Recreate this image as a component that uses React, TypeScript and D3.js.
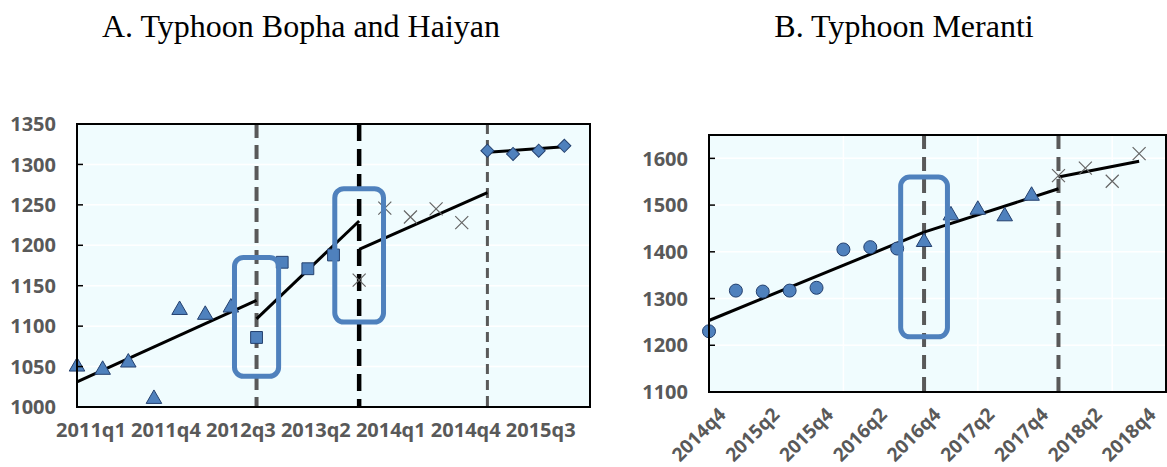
import React from 'react';
import * as d3 from 'd3';

// ---- Panel A: Typhoon Bopha and Haiyan ----
const quartersA = [
  '2011q1', '2011q2', '2011q3', '2011q4', '2012q1', '2012q2', '2012q3', '2012q4',
  '2013q1', '2013q2', '2013q3', '2013q4', '2014q1', '2014q2', '2014q3', '2014q4',
  '2015q1', '2015q2', '2015q3', '2015q4',
];
const tickLabelsA = ['2011q1', '2011q4', '2012q3', '2013q2', '2014q1', '2014q4', '2015q3'];
const yTicksA = [1000, 1050, 1100, 1150, 1200, 1250, 1300, 1350];

const triangleA = [1050, 1046, 1055, 1010, 1120, 1114, 1123]; // from 2011q1
const squareA = [1086, 1179, 1171, 1188]; // from 2012q4
const crossA = [1157, 1246, 1235, 1245, 1228]; // from 2013q4
const diamondA = [1317, 1313, 1317, 1323]; // from 2015q1

const fitA = [
  { from: '2011q1', to: '2012q4', y0: 1031, y1: 1132 },
  { from: '2012q4', to: '2013q4', y0: 1109, y1: 1230 },
  { from: '2013q4', to: '2015q1', y0: 1195, y1: 1265 },
  { from: '2015q1', to: '2015q4', y0: 1315, y1: 1322 },
];
const eventsA = ['2012q4', '2013q4', '2015q1'];
const boxesA = [
  { at: '2012q4', lo: 1038, hi: 1185 },
  { at: '2013q4', lo: 1105, hi: 1270 },
];

// ---- Panel B: Typhoon Meranti ----
const quartersB = [
  '2014q4', '2015q1', '2015q2', '2015q3', '2015q4', '2016q1', '2016q2', '2016q3',
  '2016q4', '2017q1', '2017q2', '2017q3', '2017q4', '2018q1', '2018q2', '2018q3',
  '2018q4',
];
const tickLabelsB = ['2014q4', '2015q2', '2015q4', '2016q2', '2016q4', '2017q2', '2017q4', '2018q2', '2018q4'];
const yTicksB = [1100, 1200, 1300, 1400, 1500, 1600];

const circleB = [1230, 1317, 1315, 1317, 1323, 1405, 1410, 1407]; // from 2014q4
const triangleB = [1421, 1478, 1490, 1476, 1520]; // from 2016q4
const crossB = [1563, 1579, 1551, 1610]; // from 2018q1

const fitB = [
  { from: '2014q4', to: '2016q4', y0: 1253, y1: 1442 },
  { from: '2016q4', to: '2018q1', y0: 1442, y1: 1535 },
  { from: '2018q1', to: '2018q4', y0: 1560, y1: 1594 },
];
const eventsB = ['2016q4', '2018q1'];
const boxesB = [{ at: '2016q4', lo: 1218, hi: 1560 }];
const vGridB = ['2016q1', '2017q2', '2018q3'];

const BLUE = '#4f81bd';
const EDGE = '#24406e';
const GREY = '#595959';
const FONT = "'Open Sans', 'Liberation Sans', sans-serif";

type Series = { shape: string; from: string; values: number[] };
type EventStyle = { color: string; width: number; dash: string };

const Marker = ({ shape, cx, cy }: { shape: string; cx: number; cy: number }) => {
  if (shape === 'cross') {
    const h = 6.5;
    return (
      <path
        d={`M${cx - h},${cy - h}L${cx + h},${cy + h}M${cx - h},${cy + h}L${cx + h},${cy - h}`}
        stroke="#666"
        strokeWidth={1.2}
        fill="none"
      />
    );
  }
  if (shape === 'circle') {
    return <circle cx={cx} cy={cy} r={6.5} fill={BLUE} stroke={EDGE} strokeWidth={1} />;
  }
  let d = '';
  let rot = 0;
  if (shape === 'triangle') d = d3.symbol(d3.symbolTriangle, 105)() as string;
  if (shape === 'square') d = d3.symbol(d3.symbolSquare, 140)() as string;
  if (shape === 'diamond') {
    d = d3.symbol(d3.symbolSquare, 85)() as string;
    rot = 45;
  }
  return (
    <path
      d={d}
      transform={`translate(${cx},${cy}) rotate(${rot})`}
      fill={BLUE}
      stroke={EDGE}
      strokeWidth={1}
    />
  );
};

const Panel = (props: {
  title: string;
  titleX: number;
  quarters: string[];
  tickLabels: string[];
  yTicks: number[];
  yDomain: [number, number];
  series: Series[];
  fits: { from: string; to: string; y0: number; y1: number }[];
  events: string[];
  eventStyles: EventStyle[];
  boxes: { at: string; lo: number; hi: number }[];
  boxHalf: number[];
  vGrid: string[];
  rect: { left: number; right: number; top: number; bottom: number };
  xMax: number;
  rotate: boolean;
}) => {
  const { rect, quarters } = props;
  const x = d3.scaleLinear().domain([0, props.xMax]).range([rect.left, rect.right]);
  const y = d3.scaleLinear().domain(props.yDomain).range([rect.bottom, rect.top]);
  const qi = (q: string) => quarters.indexOf(q);

  // Category labels of panel A are spread slightly wider than the ticks
  const labelA = d3
    .scalePoint<string>()
    .domain(props.tickLabels)
    .range([x(0) + 14, x(qi(props.tickLabels[props.tickLabels.length - 1])) + 2]);

  return (
    <g>
      <text x={props.titleX} y={37} textAnchor="middle" fontFamily="'Liberation Serif', 'Times New Roman', serif" fontSize={32} fill="#000">
        {props.title}
      </text>
      <rect x={rect.left} y={rect.top} width={rect.right - rect.left} height={rect.bottom - rect.top} fill="#f0fcfe" />
      {props.yTicks.map((t) => (
        <line key={'g' + t} x1={rect.left} x2={rect.right} y1={y(t)} y2={y(t)} stroke="#ffffff" strokeWidth={1.5} />
      ))}
      {props.vGrid.map((q) => (
        <line key={'v' + q} x1={x(qi(q))} x2={x(qi(q))} y1={rect.top} y2={rect.bottom} stroke="#ffffff" strokeWidth={1.5} />
      ))}
      {props.events.map((q, k) => (
        <line
          key={'e' + q}
          x1={x(qi(q))}
          x2={x(qi(q))}
          y1={rect.top}
          y2={rect.bottom}
          stroke={props.eventStyles[k].color}
          strokeWidth={props.eventStyles[k].width}
          strokeDasharray={props.eventStyles[k].dash}
        />
      ))}
      {props.fits.map((f) => (
        <line
          key={'f' + f.from}
          x1={x(qi(f.from))}
          x2={x(qi(f.to))}
          y1={y(f.y0)}
          y2={y(f.y1)}
          stroke="#000"
          strokeWidth={3}
        />
      ))}
      {props.series.map((s) =>
        s.values.map((v, k) => (
          <Marker key={s.shape + s.from + k} shape={s.shape} cx={x(qi(s.from) + k)} cy={y(v)} />
        ))
      )}
      {props.boxes.map((b, k) => {
        const c = qi(b.at);
        const h = props.boxHalf[k];
        return (
          <rect
            key={'b' + b.at}
            x={x(c - h)}
            y={y(b.hi)}
            width={x(c + h) - x(c - h)}
            height={y(b.lo) - y(b.hi)}
            rx={9}
            fill="none"
            stroke={BLUE}
            strokeWidth={5}
          />
        );
      })}
      <rect
        x={rect.left}
        y={rect.top}
        width={rect.right - rect.left}
        height={rect.bottom - rect.top}
        fill="none"
        stroke="#000"
        strokeWidth={2}
      />
      {props.yTicks.map((t) => (
        <g key={'y' + t}>
          <line x1={rect.left} x2={rect.left + 6} y1={y(t)} y2={y(t)} stroke="#000" strokeWidth={1.5} />
          <text
            x={rect.left - 21}
            y={y(t)}
            dy="0.36em"
            textAnchor="end"
            fontFamily={FONT}
            fontWeight={700}
            fontSize={20}
            fill={GREY}
          >
            {t}
          </text>
        </g>
      ))}
      {props.tickLabels.map((l) =>
        props.rotate ? (
          <text
            key={'x' + l}
            transform={`translate(${x(qi(l)) + 13},${rect.bottom + 19}) rotate(-45)`}
            dy="0.36em"
            textAnchor="end"
            fontFamily={FONT}
            fontWeight={700}
            fontSize={19}
            fill={GREY}
          >
            {l}
          </text>
        ) : (
          <text
            key={'x' + l}
            x={labelA(l)}
            y={rect.bottom + 30}
            textAnchor="middle"
            fontFamily={FONT}
            fontWeight={700}
            fontSize={20}
            fill={GREY}
          >
            {l}
          </text>
        )
      )}
    </g>
  );
};

const App = () => {
  return (
    <svg
      width={1167}
      height={467}
      style={{ position: 'absolute', left: 0, top: 0, background: '#fff' }}
    >
      <Panel
        title="A. Typhoon Bopha and Haiyan"
        titleX={301}
        quarters={quartersA}
        tickLabels={tickLabelsA}
        yTicks={yTicksA}
        yDomain={[1000, 1350]}
        series={[
          { shape: 'triangle', from: '2011q1', values: triangleA },
          { shape: 'square', from: '2012q4', values: squareA },
          { shape: 'cross', from: '2013q4', values: crossA },
          { shape: 'diamond', from: '2015q1', values: diamondA },
        ]}
        fits={fitA}
        events={eventsA}
        eventStyles={[
          { color: GREY, width: 4, dash: '14 7' },
          { color: '#000', width: 4.5, dash: '17 8' },
          { color: GREY, width: 3, dash: '10 6' },
        ]}
        boxes={boxesA}
        boxHalf={[0.86, 0.95]}
        vGrid={[]}
        rect={{ left: 77, right: 590, top: 124, bottom: 407 }}
        xMax={20}
        rotate={false}
      />
      <Panel
        title="B. Typhoon Meranti"
        titleX={904}
        quarters={quartersB}
        tickLabels={tickLabelsB}
        yTicks={yTicksB}
        yDomain={[1100, 1650]}
        series={[
          { shape: 'circle', from: '2014q4', values: circleB },
          { shape: 'triangle', from: '2016q4', values: triangleB },
          { shape: 'cross', from: '2018q1', values: crossB },
        ]}
        fits={fitB}
        events={eventsB}
        eventStyles={[
          { color: GREY, width: 4, dash: '14 8' },
          { color: GREY, width: 4, dash: '14 8' },
        ]}
        boxes={boxesB}
        boxHalf={[0.87]}
        vGrid={vGridB}
        rect={{ left: 709, right: 1166, top: 135, bottom: 392 }}
        xMax={17}
        rotate={true}
      />
    </svg>
  );
};

export default App;
